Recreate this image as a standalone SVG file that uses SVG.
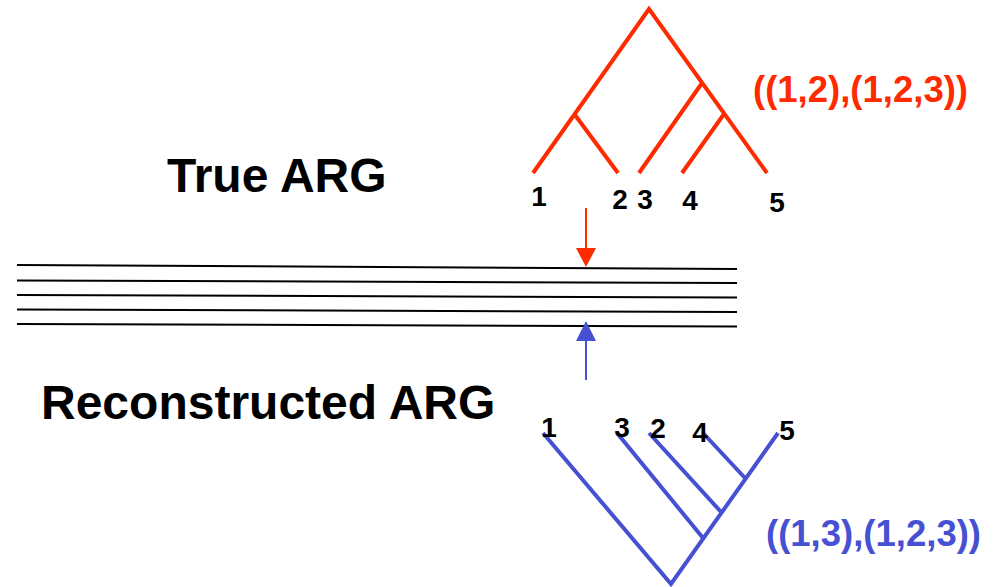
<svg xmlns="http://www.w3.org/2000/svg" width="994" height="587" viewBox="0 0 994 587">
<style>
.t{font-family:"Liberation Sans",Arial,sans-serif;font-weight:bold}
.title{font-size:48px;fill:#000}
.leaf{font-size:28px;fill:#000;text-anchor:middle}
.red{stroke:#ff2a00;stroke-width:4;fill:none;stroke-linecap:butt}
.blue{stroke:#4650d2;stroke-width:4;fill:none}
.seq{stroke:#000;stroke-width:2}
</style>
<rect width="994" height="587" fill="#fff"/>
<g id="true-arg-title"><text class="t title" x="167" y="192">True ARG</text></g>
<g id="reconstructed-arg-title"><text class="t title" x="41" y="419">Reconstructed ARG</text></g>
<g id="true-tree">
<path class="red" d="M533,173 L649,9 L767,173 M575,115 L618,173 M702,83 L639,173 M724,114 L682,173"/>
<text class="t leaf" x="539" y="206">1</text>
<text class="t leaf" x="620" y="209">2</text>
<text class="t leaf" x="645" y="209">3</text>
<text class="t leaf" x="690" y="210">4</text>
<text class="t leaf" x="777" y="212">5</text>
</g>
<g id="true-newick"><text class="t" x="753" y="102" font-size="36.5" fill="#ff2a00">((1,2),(1,2,3))</text></g>
<g id="recon-tree">
<path class="blue" d="M543,433 L671,584 L778,433 M617,433 L703,538 M649,433 L722,513 M703,433 L745,478"/>
<text class="t leaf" x="549" y="437">1</text>
<text class="t leaf" x="622" y="437">3</text>
<text class="t leaf" x="658" y="438">2</text>
<text class="t leaf" x="700" y="442">4</text>
<text class="t leaf" x="787" y="440">5</text>
</g>
<g id="recon-newick"><text class="t" x="766" y="546" font-size="36.5" fill="#4650d2">((1,3),(1,2,3))</text></g>
<g id="sequences">
<line class="seq" x1="17" y1="265" x2="737" y2="269"/>
<line class="seq" x1="17" y1="280.5" x2="737" y2="283"/>
<line class="seq" x1="17" y1="295" x2="737" y2="297.5"/>
<line class="seq" x1="17" y1="309.5" x2="737" y2="312"/>
<line class="seq" x1="17" y1="324" x2="737" y2="326.5"/>
</g>
<g id="connectors">
<line x1="586" y1="208" x2="586" y2="250" stroke="#ff2a00" stroke-width="2"/>
<polygon points="576,248 596,248 586,267" fill="#ff2a00"/>
<line x1="586" y1="339" x2="586" y2="380" stroke="#4650d2" stroke-width="2"/>
<polygon points="576,341 596,341 586,321" fill="#4650d2"/>
</g>
</svg>
